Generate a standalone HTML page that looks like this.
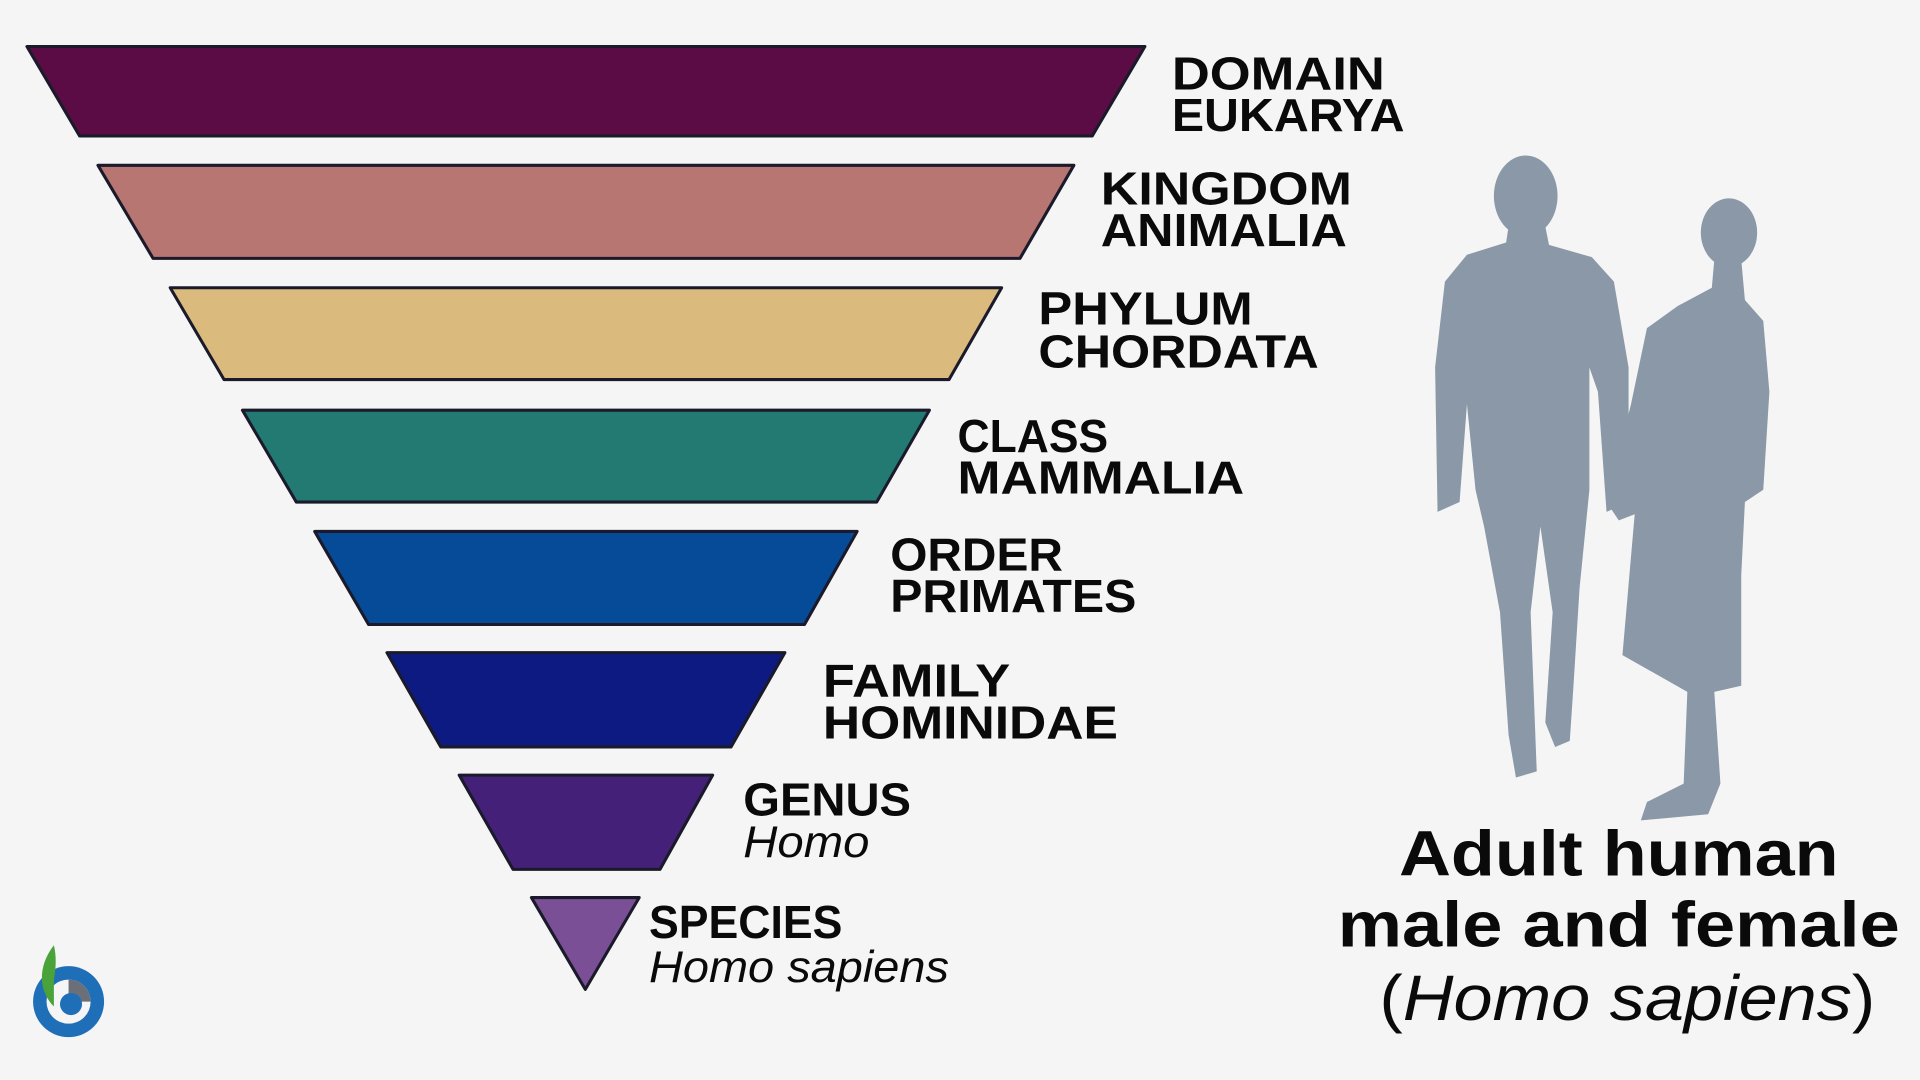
<!DOCTYPE html>
<html><head><meta charset="utf-8"><style>
html,body{margin:0;padding:0;background:#f5f5f5;}
svg{display:block}
text{font-family:"Liberation Sans",sans-serif;fill:#0a0a0a}
.b{font-weight:bold;font-size:38px}
.i{font-style:italic;font-size:36px}
</style></head><body>
<svg width="1920" height="1080" viewBox="0 0 1568 882" xmlns="http://www.w3.org/2000/svg">
<rect width="1568" height="882" fill="#f5f5f5"/>
<g stroke="#1a1a2a" stroke-width="2.5" stroke-linejoin="round">
<polygon points="22,38 935,38 892,111 65,111" fill="#5c0c45"/>
<polygon points="80,135 877,135 833,211 125,211" fill="#b87672"/>
<polygon points="139,235 818,235 775,310 183,310" fill="#dbbb7d"/>
<polygon points="198,335 759,335 716,410 242,410" fill="#237a73"/>
<polygon points="257,434 700,434 657,510 301,510" fill="#064b97"/>
<polygon points="316,533 641,533 597,610 360,610" fill="#0d1a82"/>
<polygon points="375,633 582,633 539,710 419,710" fill="#452078"/>
<polygon points="434,733 522,733 478,808" fill="#7a4f96"/>
</g>
<text class="b" x="957" y="73" textLength="174" lengthAdjust="spacingAndGlyphs">DOMAIN</text>
<text class="b" x="957" y="107" textLength="190" lengthAdjust="spacingAndGlyphs">EUKARYA</text>
<text class="b" x="899" y="167" textLength="205" lengthAdjust="spacingAndGlyphs">KINGDOM</text>
<text class="b" x="899" y="201" textLength="201" lengthAdjust="spacingAndGlyphs">ANIMALIA</text>
<text class="b" x="848" y="265" textLength="175" lengthAdjust="spacingAndGlyphs">PHYLUM</text>
<text class="b" x="848" y="300" textLength="229" lengthAdjust="spacingAndGlyphs">CHORDATA</text>
<text class="b" x="782" y="369" textLength="123" lengthAdjust="spacingAndGlyphs">CLASS</text>
<text class="b" x="782" y="403" textLength="234" lengthAdjust="spacingAndGlyphs">MAMMALIA</text>
<text class="b" x="727" y="466" textLength="141" lengthAdjust="spacingAndGlyphs">ORDER</text>
<text class="b" x="727" y="500" textLength="201" lengthAdjust="spacingAndGlyphs">PRIMATES</text>
<text class="b" x="672" y="569" textLength="153" lengthAdjust="spacingAndGlyphs">FAMILY</text>
<text class="b" x="672" y="603" textLength="241" lengthAdjust="spacingAndGlyphs">HOMINIDAE</text>
<text class="b" x="607" y="666" textLength="137" lengthAdjust="spacingAndGlyphs">GENUS</text>
<text class="i" x="607" y="700" textLength="103" lengthAdjust="spacingAndGlyphs">Homo</text>
<text class="b" x="530" y="766" textLength="158" lengthAdjust="spacingAndGlyphs">SPECIES</text>
<text class="i" x="530" y="802" textLength="245" lengthAdjust="spacingAndGlyphs">Homo sapiens</text>

<g fill="#8a98a7">
<ellipse cx="1246" cy="160" rx="26" ry="33"/>
<polygon points="1232,185 1262,185 1265,200 1300,210 1318,230 1330,300 1330,410 1312,418 1305,320 1298,300 1298,400 1290,480 1285,560 1282,605 1270,610 1262,590 1268,500 1258,430 1250,500 1255,630 1238,635 1232,600 1225,500 1212,430 1205,400 1198,330 1192,410 1174,418 1172,300 1180,230 1198,208 1230,198"/>
<ellipse cx="1412" cy="190" rx="23" ry="28"/>
<polygon points="1400,212 1422,212 1425,245 1440,262 1445,320 1440,400 1425,410 1422,470 1422,560 1400,565 1405,640 1395,665 1340,670 1345,655 1375,640 1378,565 1325,535 1335,420 1322,425 1312,410 1332,330 1345,268 1370,250 1398,235"/>
</g>

<text x="1322" y="715" text-anchor="middle" font-weight="bold" font-size="52" textLength="359" lengthAdjust="spacingAndGlyphs">Adult human</text>
<text x="1322" y="773" text-anchor="middle" font-weight="bold" font-size="52" textLength="459" lengthAdjust="spacingAndGlyphs">male and female</text>
<text x="1329" y="833" text-anchor="middle" font-size="52" textLength="405" lengthAdjust="spacingAndGlyphs">(<tspan font-style="italic">Homo sapiens</tspan>)</text>

<circle cx="56" cy="818" r="29" fill="#1f6fb8"/>
<circle cx="56" cy="818" r="18" fill="#f5f5f5"/>
<path d="M44,772 C30,790 32,810 44,822 L44,800 C46,790 46,780 44,772Z" fill="#4aa23a"/>
<path d="M56,800 A18,18 0 0 1 74,818 L56,818Z" fill="#6b6f78"/>
<circle cx="58" cy="820" r="9" fill="#1f6fb8"/>
</svg>
</body></html>
